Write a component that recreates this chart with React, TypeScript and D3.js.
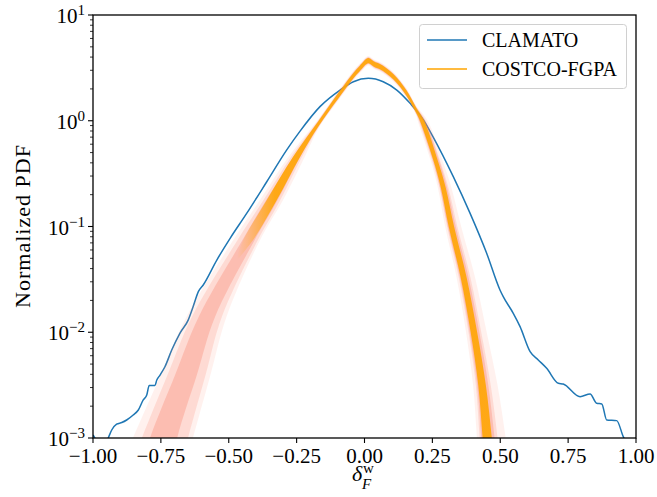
import React from 'react';
import * as d3 from 'd3';

// plot box (px)
const W = 657, H = 497;
const margin = { top: 15, right: 21, bottom: 59, left: 93 };
const innerW = W - margin.left - margin.right;
const innerH = H - margin.top - margin.bottom;

const X_TICKS = [-1, -0.75, -0.5, -0.25, 0, 0.25, 0.5, 0.75, 1];
const Y_DECADES = [-3, -2, -1, 0, 1];

// CLAMATO pdf, [delta, pdf]
const CLAMATO = [
  [-1.0, 1.07e-3], [-0.985, 0.93e-3], [-0.96, 0.83e-3], [-0.944, 1.0e-3], [-0.931, 1.19e-3],
  [-0.913, 1.35e-3], [-0.894, 1.4e-3], [-0.876, 1.48e-3], [-0.852, 1.65e-3], [-0.833, 1.84e-3],
  [-0.815, 2.29e-3], [-0.802, 2.55e-3], [-0.793, 3.13e-3], [-0.772, 3.13e-3], [-0.765, 3.53e-3],
  [-0.753, 3.94e-3], [-0.735, 4.72e-3], [-0.71, 6.79e-3], [-0.68, 9.77e-3], [-0.649, 1.31e-2],
  [-0.631, 1.75e-2], [-0.612, 2.42e-2], [-0.594, 2.8e-2], [-0.544, 4.82e-2], [-0.495, 7.73e-2],
  [-0.434, 0.133], [-0.36, 0.265], [-0.287, 0.528], [-0.238, 0.794], [-0.164, 1.36],
  [-0.09, 1.95], [-0.041, 2.34], [0.014, 2.52], [0.069, 2.34], [0.119, 1.95],
  [0.168, 1.46], [0.217, 1.02], [0.253, 0.7], [0.327, 0.296], [0.389, 0.133],
  [0.45, 5.58e-2], [0.499, 2.51e-2], [0.511, 2.17e-2], [0.548, 1.51e-2], [0.573, 1.13e-2],
  [0.61, 6.55e-3], [0.64, 5.47e-3], [0.671, 4.56e-3], [0.714, 3.29e-3], [0.732, 3.24e-3],
  [0.794, 2.46e-3], [0.831, 2.61e-3], [0.855, 2.13e-3], [0.874, 2.1e-3], [0.892, 1.48e-3],
  [0.929, 1.46e-3], [0.953, 1.03e-3], [0.97, 0.85e-3],
];

const OUTER_HI = [
  [-0.92, 3.98e-4], [-0.853, 1.0e-3], [-0.75, 3.98e-3], [-0.655, 1.41e-2], [-0.484, 7.41e-2],
  [-0.385, 0.178], [-0.28, 0.457], [-0.17, 1.035], [-0.09, 2.018], [-0.04, 2.985],
  [-0.017, 3.475], [0.014, 4.102], [0.035, 3.802], [0.057, 3.597], [0.106, 2.897],
  [0.155, 2.018], [0.19, 1.396], [0.233, 1.0], [0.286, 0.427], [0.32, 0.234],
  [0.356, 0.1], [0.407, 3.31e-2], [0.45, 0.01], [0.49, 3.16e-3], [0.52, 1.0e-3], [0.54, 3.98e-4],
];
const OUTER_LO = [
  [-0.675, 3.98e-4], [-0.632, 1.0e-3], [-0.567, 3.98e-3], [-0.508, 1.41e-2], [-0.385, 7.41e-2],
  [-0.3, 0.178], [-0.22, 0.457], [-0.17, 0.841], [-0.09, 1.641], [-0.04, 2.427],
  [-0.017, 2.825], [0.014, 3.334], [0.035, 3.09], [0.057, 2.924], [0.106, 2.355],
  [0.155, 1.641], [0.19, 1.135], [0.196, 1.0], [0.243, 0.427], [0.27, 0.234],
  [0.297, 0.1], [0.339, 3.31e-2], [0.374, 0.01], [0.4, 3.16e-3], [0.414, 1.0e-3], [0.424, 3.98e-4],
];
const MID_HI = [
  [-0.88, 3.98e-4], [-0.82, 1.0e-3], [-0.725, 3.98e-3], [-0.635, 1.41e-2], [-0.468, 7.41e-2],
  [-0.372, 0.178], [-0.27, 0.457], [-0.17, 1.012], [-0.09, 1.972], [-0.04, 2.917],
  [-0.017, 3.396], [0.014, 4.009], [0.035, 3.715], [0.057, 3.516], [0.106, 2.831],
  [0.155, 1.972], [0.19, 1.365], [0.226, 1.0], [0.277, 0.427], [0.309, 0.234],
  [0.342, 0.1], [0.39, 3.31e-2], [0.43, 0.01], [0.465, 3.16e-3], [0.49, 1.0e-3], [0.505, 3.98e-4],
];
const MID_LO = [
  [-0.69, 3.98e-4], [-0.65, 1.0e-3], [-0.585, 3.98e-3], [-0.525, 1.41e-2], [-0.393, 7.41e-2],
  [-0.31, 0.178], [-0.23, 0.457], [-0.17, 0.861], [-0.09, 1.679], [-0.04, 2.483],
  [-0.017, 2.891], [0.014, 3.412], [0.035, 3.162], [0.057, 2.992], [0.106, 2.41],
  [0.155, 1.679], [0.19, 1.161], [0.2, 1.0], [0.248, 0.427], [0.276, 0.234],
  [0.304, 0.1], [0.347, 3.31e-2], [0.383, 0.01], [0.41, 3.16e-3], [0.424, 1.0e-3], [0.435, 3.98e-4],
];
const INNER_HI = [
  [-0.84, 3.98e-4], [-0.79, 1.0e-3], [-0.697, 3.98e-3], [-0.61, 1.41e-2], [-0.45, 7.41e-2],
  [-0.362, 0.178], [-0.262, 0.457], [-0.17, 0.998], [-0.09, 1.945], [-0.04, 2.877],
  [-0.017, 3.35], [0.014, 3.954], [0.035, 3.664], [0.057, 3.467], [0.106, 2.793],
  [0.155, 1.945], [0.19, 1.346], [0.223, 1.0], [0.274, 0.427], [0.304, 0.234],
  [0.336, 0.1], [0.383, 3.31e-2], [0.423, 0.01], [0.456, 3.16e-3], [0.479, 1.0e-3], [0.494, 3.98e-4],
];
const INNER_LO = [
  [-0.72, 3.98e-4], [-0.69, 1.0e-3], [-0.617, 3.98e-3], [-0.55, 1.41e-2], [-0.405, 7.41e-2],
  [-0.32, 0.178], [-0.236, 0.457], [-0.17, 0.873], [-0.09, 1.702], [-0.04, 2.518],
  [-0.017, 2.931], [0.014, 3.459], [0.035, 3.206], [0.057, 3.034], [0.106, 2.443],
  [0.155, 1.702], [0.19, 1.178], [0.202, 1.0], [0.251, 0.427], [0.278, 0.234],
  [0.307, 0.1], [0.351, 3.31e-2], [0.387, 0.01], [0.415, 3.16e-3], [0.43, 1.0e-3], [0.441, 3.98e-4],
];
const CORE_HI = [
  [-0.48, 4.47e-2], [-0.447, 7.41e-2], [-0.36, 0.178], [-0.263, 0.457], [-0.17, 0.989],
  [-0.09, 1.928], [-0.04, 2.851], [-0.017, 3.319], [0.014, 3.917], [0.035, 3.631],
  [0.057, 3.436], [0.106, 2.767], [0.155, 1.928], [0.19, 1.334], [0.22, 1.0],
  [0.269, 0.427], [0.299, 0.234], [0.33, 0.1], [0.376, 3.31e-2], [0.415, 0.01],
  [0.447, 3.16e-3], [0.469, 1.0e-3], [0.483, 3.98e-4],
];
const CORE_LO = [
  [-0.48, 4.47e-2], [-0.411, 7.41e-2], [-0.323, 0.178], [-0.237, 0.457], [-0.17, 0.881],
  [-0.09, 1.718], [-0.04, 2.541], [-0.017, 2.958], [0.014, 3.491], [0.035, 3.236],
  [0.057, 3.062], [0.106, 2.466], [0.155, 1.718], [0.19, 1.189], [0.204, 1.0],
  [0.253, 0.427], [0.281, 0.234], [0.31, 0.1], [0.354, 3.31e-2], [0.391, 0.01],
  [0.419, 3.16e-3], [0.435, 1.0e-3], [0.447, 3.98e-4],
];

const SERIES = ['CLAMATO', 'COSTCO-FGPA'];
const COLORS = ['#1f77b4', '#ffa500'];

const FONT = '"Liberation Serif", "DejaVu Serif", serif';

export default function App() {
  const x = d3.scaleLinear().domain([-1, 1]).range([margin.left, margin.left + innerW]);
  const y = d3.scaleLog().domain([1e-3, 10]).range([margin.top + innerH, margin.top]);

  const blue = d3.line<number[]>().x(d => x(d[0])).y(d => y(d[1]))
    .curve(d3.curveMonotoneX)(CLAMATO as number[][]);

  // closed outline: upper edge forward, lower edge back
  const band = (hi: number[][], lo: number[][]) => {
    const pts = [...hi, ...lo.slice().reverse()];
    return d3.line<number[]>().x(d => x(d[0])).y(d => y(d[1]))
      .curve(d3.curveCatmullRom.alpha(0.5))(pts) + 'Z';
  };

  const minor: number[] = [];
  for (let k = -3; k < 1; k++) {
    for (let m = 2; m <= 9; m++) minor.push(m * Math.pow(10, k));
  }

  const bottom = margin.top + innerH;

  return (
    <svg width={W} height={H} style={{ position: 'absolute', left: 0, top: 0, background: '#fff' }}
      fontFamily={FONT}>
      <defs>
        <clipPath id="plot">
          <rect x={margin.left} y={margin.top} width={innerW} height={innerH} />
        </clipPath>
        <linearGradient id="coreFade" gradientUnits="userSpaceOnUse"
          x1={x(-0.47)} x2={x(-0.33)} y1={0} y2={0}>
          <stop offset="0" stopColor="#ffa500" stopOpacity={0} />
          <stop offset="1" stopColor="#ffa500" stopOpacity={0.88} />
        </linearGradient>
      </defs>

      <g clipPath="url(#plot)">
        <path d={blue || ''} fill="none" stroke={COLORS[0]} strokeWidth={1.5} />
        <path d={band(OUTER_HI, OUTER_LO)} fill="#ff8a70" fillOpacity={0.12} />
        <path d={band(MID_HI, MID_LO)} fill="#f9826a" fillOpacity={0.2} />
        <path d={band(INNER_HI, INNER_LO)} fill="#f77a62" fillOpacity={0.3} />
        <path d={band(CORE_HI, CORE_LO)} fill="url(#coreFade)" />
      </g>

      {/* x axis */}
      {X_TICKS.map(t => (
        <g key={t}>
          <line x1={x(t)} x2={x(t)} y1={bottom} y2={bottom + 5} stroke="#000" strokeWidth={1.1} />
          <text x={x(t)} y={bottom + 25} fontSize={21} textAnchor="middle">
            {(t < 0 ? '\u2212' : '') + Math.abs(t).toFixed(2)}
          </text>
        </g>
      ))}

      {/* y axis, log */}
      {minor.map(v => (
        <line key={v} x1={margin.left - 3} x2={margin.left} y1={y(v)} y2={y(v)} stroke="#000" strokeWidth={0.8} />
      ))}
      {Y_DECADES.map(k => (
        <g key={k}>
          <line x1={margin.left - 5} x2={margin.left} y1={y(Math.pow(10, k))} y2={y(Math.pow(10, k))}
            stroke="#000" strokeWidth={1.1} />
          <text x={margin.left - 8} y={y(Math.pow(10, k)) + 8} fontSize={21} textAnchor="end">
            10<tspan fontSize={15} dy={-8}>{k < 0 ? '\u2212' + Math.abs(k) : String(k)}</tspan>
          </text>
        </g>
      ))}

      <rect x={margin.left} y={margin.top} width={innerW} height={innerH} fill="none" stroke="#000" strokeWidth={1.3} />

      {/* axis titles */}
      <text transform={`translate(30,${margin.top + innerH / 2}) rotate(-90)`} fontSize={22}
        textAnchor="middle" textLength={163} lengthAdjust="spacing">Normalized PDF</text>
      <text x={352} y={481} fontSize={22} fontStyle="italic">δ</text>
      <text x={362} y={489} fontSize={15} fontStyle="italic">F</text>
      <text x={363} y={473} fontSize={15}>w</text>

      {/* legend */}
      <rect x={419.5} y={24.5} width={207} height={64} rx={3} fill="#fff" fillOpacity={0.8} stroke="#d0d0d0" />
      {SERIES.map((s, i) => (
        <g key={s}>
          <line x1={427} x2={467} y1={40 + i * 29} y2={40 + i * 29} stroke={COLORS[i]} strokeWidth={1.5} />
          <text x={482} y={47 + i * 29} fontSize={20}>{s}</text>
        </g>
      ))}
    </svg>
  );
}
